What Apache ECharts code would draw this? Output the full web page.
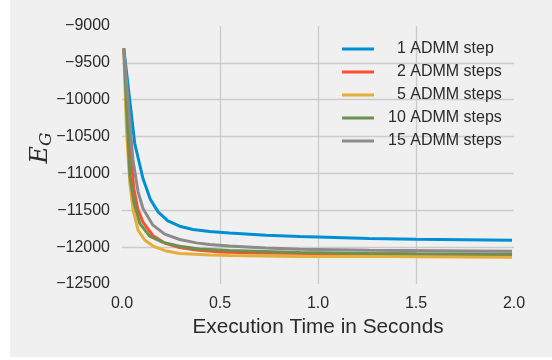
<!DOCTYPE html>
<html>
<head>
<meta charset="utf-8">
<script src="https://cdn.jsdelivr.net/npm/echarts@6/dist/echarts.min.js"></script>
<style>
  html, body { margin: 0; padding: 0; background: #ffffff; width: 552px; height: 360px; overflow: hidden; }
  #main { position: absolute; left: 10px; top: 0; width: 542px; height: 357px; background: #f0f0f0; }
</style>
</head>
<body>
<div id="main"></div>
<script>
// ---- data ----
const labels = ['1 ADMM step', '2 ADMM steps', '5 ADMM steps', '10 ADMM steps', '15 ADMM steps'];
const colors = ['#008fd5', '#fc4f30', '#e5ae38', '#6d904f', '#8b8b8b'];

const step1T  = [0.009, 0.065, 0.107, 0.145, 0.184, 0.234, 0.294, 0.362, 0.447, 0.548, 0.735, 0.905, 1.0, 1.26, 1.5, 1.99];
const step1V  = [-9305, -10594, -11069, -11353, -11522, -11644, -11716, -11760, -11788, -11807, -11838, -11855, -11861, -11883, -11893, -11907];

const step2T  = [0.009, 0.043, 0.060, 0.080, 0.107, 0.158, 0.218, 0.294, 0.379, 0.5, 0.7, 1.0, 1.5, 1.99];
const step2V  = [-9305, -10685, -11200, -11480, -11660, -11845, -11945, -12005, -12040, -12065, -12078, -12086, -12094, -12100];

const step5T  = [0.009, 0.023, 0.040, 0.057, 0.082, 0.116, 0.158, 0.226, 0.294, 0.447, 0.548, 0.905, 1.26, 1.5, 1.99];
const step5V  = [-9305, -10413, -11135, -11497, -11768, -11903, -11985, -12053, -12085, -12108, -12115, -12128, -12122, -12130, -12138];

const step10T = [0.009, 0.040, 0.060, 0.091, 0.141, 0.209, 0.294, 0.396, 0.548, 0.905, 1.26, 1.5, 1.99];
const step10V = [-9305, -11024, -11380, -11680, -11850, -11935, -11987, -12024, -12045, -12074, -12086, -12090, -12095];

const step15T = [0.009, 0.056, 0.082, 0.107, 0.158, 0.218, 0.294, 0.379, 0.447, 0.548, 0.735, 0.905, 1.26, 1.99];
const step15V = [-9305, -10822, -11250, -11476, -11702, -11824, -11896, -11942, -11964, -11985, -12012, -12030, -12041, -12055];

const xTicks = [0, 0.5, 1.0, 1.5, 2.0];
const yTicks = [-12500, -12000, -11500, -11000, -10500, -10000, -9500, -9000];

const seriesT = [step1T, step2T, step5T, step10T, step15T];
const seriesV = [step1V, step2V, step5V, step10V, step15V];

// ---- chart ----
const chart = echarts.init(document.getElementById('main'), null, { renderer: 'canvas' });
const FONT = '"Liberation Sans", Arial, Helvetica, sans-serif';
const SERIF = '"DejaVu Serif", "Liberation Serif", serif';

const series = labels.map((name, i) => ({
  name: name,
  type: 'line',
  data: seriesT[i].map((t, k) => [t, seriesV[i][k]]),
  showSymbol: false,
  symbol: 'none',
  smooth: false,
  lineStyle: { width: 3, color: colors[i] },
  itemStyle: { color: colors[i] },
  emphasis: { disabled: true },
  animation: false
}));

chart.setOption({
  animation: false,
  backgroundColor: '#f0f0f0',
  grid: { left: 112, right: 38, top: 26, bottom: 73, containLabel: false },
  legend: {
    orient: 'vertical',
    left: 327,
    top: 36,
    itemWidth: 32,
    itemHeight: 3,
    itemGap: 7,
    icon: 'rect',
    data: labels,
    formatter: (n) => (n.split(' ')[0].length === 1 ? '  ' + n : n),
    textStyle: { fontFamily: FONT, fontSize: 16, color: '#2b2b2b', lineHeight: 16, padding: [0, 0, 0, 9] }
  },
  xAxis: {
    type: 'value',
    min: xTicks[0],
    max: xTicks[xTicks.length - 1],
    interval: 0.5,
    name: 'Execution Time in Seconds',
    nameLocation: 'middle',
    nameGap: 33,
    nameMoveOverlap: false,
    nameTextStyle: { fontFamily: FONT, fontSize: 20.8, color: '#2b2b2b' },
    axisLine: { show: false },
    axisTick: { show: false },
    axisLabel: {
      fontFamily: FONT, fontSize: 16, color: '#2b2b2b', margin: 12,
      formatter: (v) => v.toFixed(1)
    },
    splitLine: { show: true, showMinLine: false, showMaxLine: false, lineStyle: { color: '#cbcbcb', width: 1.3 } }
  },
  yAxis: {
    type: 'value',
    min: yTicks[0],
    max: yTicks[yTicks.length - 1],
    interval: 500,
    name: '{e|E}{g|G}',
    nameLocation: 'middle',
    nameRotate: 90,
    nameGap: 67,
    nameMoveOverlap: false,
    nameTextStyle: {
      padding: [0, 0, 0, 14],
      rich: {
        e: { fontFamily: SERIF, fontStyle: 'italic', fontSize: 24, lineHeight: 28, verticalAlign: 'middle', color: '#2b2b2b' },
        g: { fontFamily: SERIF, fontStyle: 'italic', fontSize: 17, lineHeight: 17, verticalAlign: 'bottom', color: '#2b2b2b' }
      }
    },
    axisLine: { show: false },
    axisTick: { show: false },
    axisLabel: {
      fontFamily: FONT, fontSize: 16, color: '#2b2b2b', margin: 12,
      formatter: (v) => String(v).replace('-', '\u2212')
    },
    splitLine: { show: true, showMinLine: false, showMaxLine: false, lineStyle: { color: '#cbcbcb', width: 1.3 } }
  },
  series: series
});
</script>
</body>
</html>
